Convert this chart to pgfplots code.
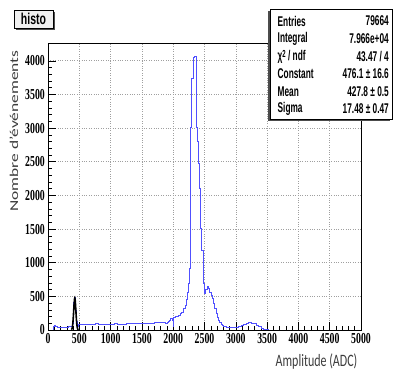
\documentclass[border=0pt]{standalone}
\usepackage{pgfplots}
\pgfplotsset{compat=1.18}
\usepackage{fontspec}
\setmainfont{Liberation Serif}
\newfontfamily\helv{Liberation Sans}
\newfontfamily\calib{Carlito}
\newfontfamily\tickfont{Liberation Serif}
\definecolor{rootblue}{RGB}{80,80,255}
\definecolor{labgray}{RGB}{60,60,60}
\begin{document}
\begin{tikzpicture}
\useasboundingbox (0,0) rectangle (393pt,371pt);
\begin{axis}[
  at={(48pt,41pt)}, anchor=south west,
  scale only axis, width=313pt, height=286.7pt,
  xmin=0, xmax=5000, ymin=0, ymax=4260,
  xtick={0,500,...,5000}, ytick={0,500,...,4000},
  minor x tick num=4, minor y tick num=4,
  tick align=inside, xtick pos=left, ytick pos=left,
  major tick length=8pt, minor tick length=4pt,
  grid=major, major grid style={dotted, gray!75, line width=0.6pt},
  /pgf/number format/1000 sep={},
  xticklabel={\scalebox{1}[1.55]{\tickfont\bfseries\fontsize{9.8}{10}\selectfont\pgfmathprintnumber[assume math mode=true,1000 sep={}]{\tick}}},
  yticklabel={\scalebox{1}[1.55]{\tickfont\bfseries\fontsize{9.8}{10}\selectfont\pgfmathprintnumber[assume math mode=true,1000 sep={}]{\tick}}},
  xticklabel style={anchor=north, inner sep=0pt, yshift=-3pt},
  yticklabel style={anchor=east, inner sep=0pt, xshift=-3pt},
  axis line style={line width=0.7pt},
  tick style={black, line width=0.5pt},
]
\addplot[const plot mark left, rootblue, line width=0.45pt] coordinates {
(0,0) (80,55) (100,66) (115,50) (140,45) (160,42) (180,40) (200,43) (220,40)
(240,44) (260,42) (280,46) (300,48) (320,50) (340,53) (360,56) (380,95)
(395,250) (410,420) (425,480) (440,300) (455,130) (470,60) (485,80)
(500,88) (550,84) (600,90) (650,93) (700,88) (750,95) (800,90) (850,93)
(900,89) (950,87) (1000,92) (1050,94) (1100,88) (1150,86) (1200,90)
(1250,94) (1300,97) (1350,102) (1400,99) (1450,107) (1500,102) (1550,100)
(1600,104) (1650,107) (1700,110) (1750,114) (1800,117) (1850,120)
(1880,104) (1900,122) (1920,127) (1940,150) (1960,175) (1980,150) (1995,50)
(2005,190) (2030,200) (2060,210) (2085,220) (2110,250) (2135,270)
(2160,320) (2190,370) (2210,450) (2231,560) (2245,690) (2253,915)
(2273,3020) (2295,3740) (2316,4060) (2338,4070) (2360,3020) (2382,2800)
(2400,2480) (2415,2100) (2430,1510) (2455,1190) (2480,690) (2497,550)
(2515,600) (2540,650) (2560,620) (2580,560) (2600,520) (2620,470)
(2640,400) (2660,320) (2680,250) (2700,190) (2720,150) (2740,110)
(2760,80) (2780,65) (2800,50) (2840,45) (2880,40) (2920,35) (2960,40)
(3000,45) (3040,55) (3080,70) (3120,90) (3160,100) (3200,110) (3240,108)
(3280,95) (3320,75) (3360,50) (3400,30) (3440,18) (3480,8) (3520,4)
(3600,2) (3700,1) (3800,0) (5000,0)
};
\addplot[black, line width=1.6pt, smooth] coordinates {
(375,5) (385,24) (395,82) (405,203) (415,364) (420,420) (425,470) (428,476)
(435,437) (445,293) (455,142) (465,50) (475,12) (485,2)
};
\end{axis}
% title box
\fill[black!70] (16pt,341pt) rectangle (55pt,359pt);
\filldraw[fill=gray!12, draw=black, line width=0.4pt] (14pt,343pt) rectangle (53pt,361pt);
\node at (33.5pt,352pt) {\scalebox{1}[1.5]{\helv\bfseries\fontsize{10.5}{12}\selectfont histo}};
% stats box
\fill[black!70] (268pt,250pt) rectangle (390pt,360pt);
\filldraw[fill=white, draw=black, line width=0.4pt] (270pt,252pt) rectangle (392pt,362pt);
\foreach \lab/\val/\yy in {
  Entries/79664/350,
  Integral/7.966e+04/332,
  {χ\raisebox{0.45ex}{\fontsize{6}{6}\selectfont 2} / ndf}/{43.47 / 4}/314,
  Constant/{476.1 ± 16.6}/297,
  Mean/{427.8 ± 0.5}/279,
  Sigma/{17.48 ± 0.47}/262} {
  \node[anchor=west, inner sep=0pt] at (277.5pt,\yy pt) {\scalebox{1}[1.7]{\helv\bfseries\fontsize{8.3}{10}\selectfont \lab}};
  \node[anchor=east, inner sep=0pt] at (389pt,\yy pt) {\scalebox{1}[1.7]{\helv\bfseries\fontsize{8.3}{10}\selectfont \val}};
}
% axis labels
\node[labgray] at (14pt,240pt) {\rotatebox{90}{\scalebox{1.45}[1]{\calib\fontsize{12}{14}\selectfont Nombre d’événements}}};
\node[labgray] at (316.5pt,9pt) {\scalebox{1}[1.45]{\calib\fontsize{12}{14}\selectfont Amplitude (ADC)}};
\end{tikzpicture}
\end{document}
